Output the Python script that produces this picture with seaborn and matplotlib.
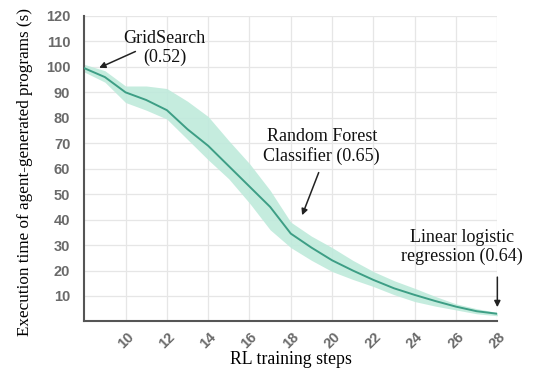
import matplotlib
matplotlib.use("Agg")
import matplotlib.pyplot as plt
import seaborn as sns
import pandas as pd

steps = [8, 9, 10, 11, 12, 13, 14, 15, 16, 17, 18, 19, 20, 21, 22, 23, 24, 25, 26, 27, 28]
exec_time = [99.5, 96, 90, 87, 83, 75.5, 69, 61, 53, 45, 34.5, 29, 24, 20, 16.3, 13, 10.4, 8, 5.8, 4, 3]
upper = [101, 98.5, 92.5, 92.5, 91.5, 86.5, 80.5, 71, 62, 51.5, 39, 33.5, 29, 24, 19.6, 16, 13, 9.8, 6.9, 5, 3.5]
lower = [98, 94, 86, 83, 79.5, 71.5, 63.5, 56, 46.5, 36, 29, 24, 19.6, 16.5, 13.7, 10.5, 7.8, 6, 4.5, 3, 2.2]
x_ticks = [10, 12, 14, 16, 18, 20, 22, 24, 26, 28]
y_ticks = [10, 20, 30, 40, 50, 60, 70, 80, 90, 100, 110, 120]

annotations = [
    ("GridSearch\n(0.52)", (8.6, 99.2), (11.9, 107.5), (10.6, 106.5)),
    ("Random Forest\nClassifier (0.65)", (18.5, 40.7), (19.5, 68.8), (19.4, 59.5)),
    ("Linear logistic\nregression (0.64)", (28.0, 4.5), (26.3, 29.3), (28.0, 18.5)),
]

df = pd.DataFrame({"step": steps, "time": exec_time, "lo": lower, "hi": upper})

sns.set_theme(style="whitegrid")
serif = ["Liberation Serif", "DejaVu Serif"]
sans = ["Liberation Sans", "DejaVu Sans"]

fig = plt.figure(figsize=(5.4, 3.72), dpi=100)
ax = fig.add_axes([0.156, 0.136, 0.765, 0.821])

line_color = "#3d9e85"
band_color = "#bfeadb"

ax.fill_between(df["step"], df["lo"], df["hi"], color=band_color, alpha=0.9, linewidth=0, zorder=2)
sns.lineplot(data=df, x="step", y="time", ax=ax, color=line_color, linewidth=1.4, zorder=3)

ax.set_xlim(8, 28)
ax.set_ylim(0, 120)
ax.set_xticks(x_ticks)
ax.set_xticklabels([str(t) for t in x_ticks], rotation=45, ha="center",
                   fontfamily=sans, fontsize=10.5, fontweight="bold", color="#6a6a6a")
ax.set_xticks([8], minor=True)
ax.set_yticks([0] + y_ticks)
ax.set_yticklabels([""] + [str(t) for t in y_ticks], fontfamily=sans, fontsize=10.5,
                   fontweight="bold", color="#6a6a6a")

ax.tick_params(axis="x", which="major", direction="in", length=5, width=1.3, color="#555555", pad=6)
ax.tick_params(axis="x", which="minor", direction="out", length=8, width=1.3, color="#555555")
ax.tick_params(axis="y", which="major", direction="out", length=7, width=1.3, color="#555555", pad=3)

ax.grid(True, which="major", color="#e6e6e6", linewidth=0.9)
ax.set_facecolor("white")
for s in ["top", "right"]:
    ax.spines[s].set_visible(False)
for s in ["left", "bottom"]:
    ax.spines[s].set_color("#555555")
    ax.spines[s].set_linewidth(1.5)

ax.set_xlabel("RL training steps", fontfamily=serif, fontsize=12.8, color="black", labelpad=0)
ax.set_ylabel("Execution time of agent-generated programs (s)", fontfamily=serif, fontsize=12.3,
              color="black", labelpad=12)
ax.yaxis.set_label_coords(-0.125, 0.49)

for text, tip, txt_pos, tail in annotations:
    ax.text(txt_pos[0], txt_pos[1], text, ha="center", va="center", fontfamily=serif,
            fontsize=13, color="#111111", linespacing=1.15, zorder=5)
    ax.annotate("", xy=tip, xytext=tail,
                arrowprops=dict(arrowstyle="-|>", color="#222222", lw=1.1, mutation_scale=9),
                annotation_clip=False, zorder=5)

fig.savefig("out.png", dpi=100, facecolor="white")
